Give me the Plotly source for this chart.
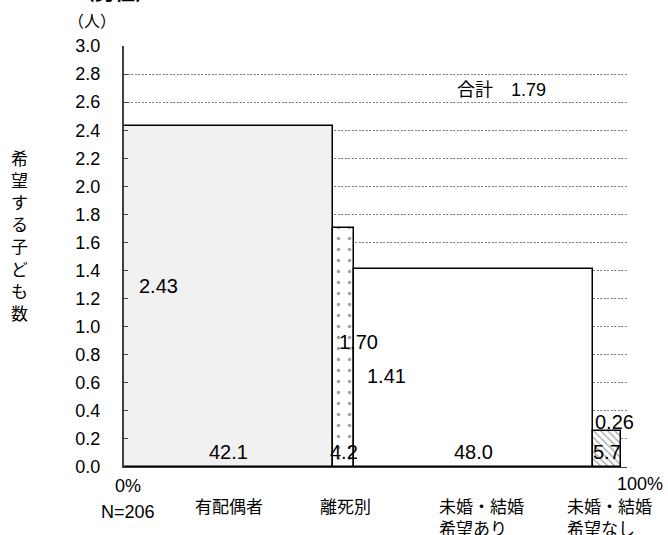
import plotly.graph_objects as go

# Data
categories = ['有配偶者', '離死別', '未婚・結婚<br>希望あり', '未婚・結婚<br>希望なし']
shares = [42.1, 4.2, 48.0, 5.7]          # composition (%)
children = [2.43, 1.70, 1.41, 0.26]      # desired number of children
total_children = 1.79
n_label = 'N=206'
y_title = '希望する子ども数'
y_ticks = [0.0, 0.2, 0.4, 0.6, 0.8, 1.0, 1.2, 1.4, 1.6, 1.8, 2.0, 2.2, 2.4,
           2.6, 2.8, 3.0]

fills = ['#f1f1f1', 'white', 'white', 'white']
patterns = ['', '.', '', '\\']

FONT = 'Liberation Sans, Arial, Noto Sans CJK JP, sans-serif'
CJK = 'Noto Sans CJK JP, sans-serif'

# Bar positions from cumulative shares
lefts = [sum(shares[:i]) for i in range(len(shares))]
centers = [l + w / 2 for l, w in zip(lefts, shares)]

fig = go.Figure()
fig.add_trace(go.Bar(
    x=centers, y=children, width=shares, base=0,
    marker=dict(color=fills, line=dict(color='black', width=1.5),
                pattern=dict(shape=patterns, fgcolor='#8a8a8a',
                             size=[11, 11, 11, 5],
                             solidity=[0.08, 0.08, 0.08, 0.25])),
    hoverinfo='skip', showlegend=False,
))

annotations = []
# share labels at bottom of each bar
for c, s in zip(centers, shares):
    annotations.append(dict(x=c, y=0.105, text=f'{s:.1f}', showarrow=False,
                            xanchor='center', yanchor='middle',
                            font=dict(size=20)))
# value labels
value_pos = [(2.6, 1.29), (42.9, 0.89), (48.5, 0.65), (94.4, 0.32)]
for (x, y), v in zip(value_pos, children):
    annotations.append(dict(x=x, y=y, text=f'{v:.2f}', showarrow=False,
                            xanchor='left', yanchor='middle',
                            font=dict(size=20)))
# category labels under the axis
cat_x = [21.2, 44.5, 72.0, 97.6]
for x, cat in zip(cat_x, categories):
    annotations.append(dict(x=x, y=-0.072, yref='paper', text=cat,
                            showarrow=False, xanchor='center', yanchor='top',
                            align='left', yshift=6,
                            font=dict(family=CJK, size=17)))
annotations += [
    # y axis title, stacked vertically
    dict(x=-0.207, y=(467 - 235.5) / 421, xref='paper', yref='paper',
         text='<br>'.join(y_title), showarrow=False, xanchor='center',
         yanchor='middle', font=dict(family=CJK, size=17)),
    dict(x=0.8, y=-0.036, yref='paper', text=n_label, showarrow=False,
         xanchor='center', yanchor='top', yshift=-18),
    dict(x=0.8, y=-0.017, yref='paper', text='0%', showarrow=False,
         xanchor='center', yanchor='top'),
    dict(x=1.076, y=-0.017, xref='paper', yref='paper', text='100%',
         showarrow=False, xanchor='right', yanchor='top', yshift=2),
    dict(x=75.9, y=2.69, text=f'合計　{total_children:.2f}', showarrow=False,
         xanchor='center', yanchor='middle', font=dict(size=18)),
    dict(x=-0.063, y=1.062, xref='paper', yref='paper', text='（人）',
         showarrow=False, xanchor='center', yanchor='middle',
         font=dict(family=CJK, size=16)),
    dict(x=-0.017, y=1.09, xref='paper', yref='paper', text='<b>（男性）</b>',
         showarrow=False, xanchor='center', yanchor='bottom',
         font=dict(family=CJK, size=20)),
]

fig.update_layout(
    width=668, height=535,
    margin=dict(l=124, r=41, t=46, b=68),
    plot_bgcolor='white', paper_bgcolor='white',
    font=dict(family=FONT, size=18, color='black'),
    bargap=0,
    annotations=annotations,
    xaxis=dict(range=[0, 101.2], showticklabels=False, showgrid=False,
               zeroline=False, showline=True, linecolor='#404040',
               linewidth=1, ticks=''),
    yaxis=dict(range=[0, 3.0], tickvals=y_ticks, tickformat='.1f',
               showgrid=True, gridcolor='#7f7f7f', griddash='2px,1.5px',
               gridwidth=1, zeroline=False, showline=True,
               linecolor='#404040', linewidth=2, ticks='inside', ticklen=4,
               tickcolor='#404040', ticklabelstandoff=18),
)

# Drop the default page margin so the figure sits at the window corner
fig.write_html('out.html', config={'displayModeBar': False},
               post_script="document.body.style.margin='0';")
